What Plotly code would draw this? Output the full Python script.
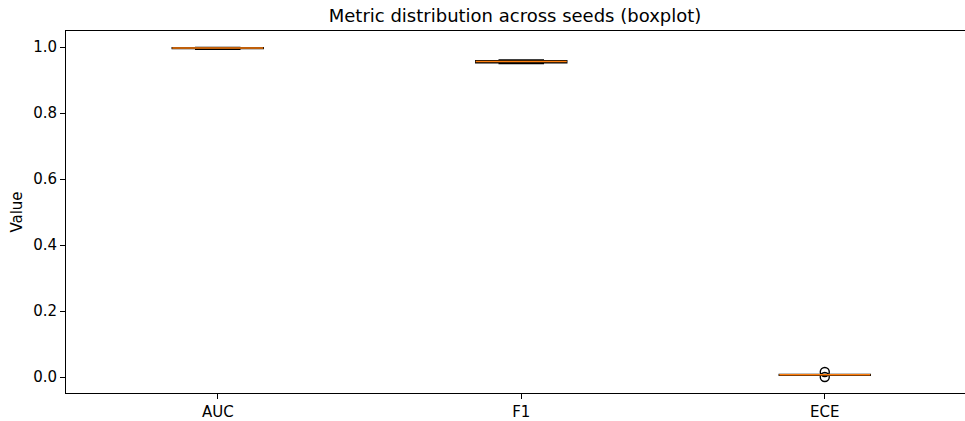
import numpy as np
import plotly.graph_objects as go

categories = ["AUC", "F1", "ECE"]
auc_values = [0.993, 0.996, 0.997, 0.998, 0.999]
f1_values = [0.950, 0.953, 0.956, 0.958, 0.961]
ece_values = [0.005, 0.006, 0.007, 0.007, 0.008, 0.015, 0.000]
y_ticks = [0.0, 0.2, 0.4, 0.6, 0.8, 1.0]

series = [auc_values, f1_values, ece_values]
positions = [1, 2, 3]
box_w = 0.3

fig = go.Figure()
for pos, name, vals in zip(positions, categories, series):
    fig.add_trace(go.Box(
        x=[pos] * len(vals), y=vals, name=name,
        width=box_w, whiskerwidth=0.5,
        quartilemethod="linear",
        boxpoints="outliers",
        fillcolor="rgba(0,0,0,0)",
        line=dict(color="black", width=1.4),
        marker=dict(symbol="circle-open", color="black", size=9,
                    line=dict(width=1.4, color="black")),
        showlegend=False,
    ))
    med = float(np.median(vals))
    fig.add_trace(go.Scatter(
        x=[pos - box_w / 2, pos + box_w / 2], y=[med, med],
        mode="lines", line=dict(color="#ff7f0e", width=1.5),
        showlegend=False, hoverinfo="skip",
    ))

font = "DejaVu Sans, sans-serif"
fig.update_layout(
    width=965, height=421,
    margin=dict(l=66, r=0, t=31, b=28),
    paper_bgcolor="white", plot_bgcolor="white",
    font=dict(family=font, size=15, color="black"),
    title=dict(text="Metric distribution across seeds (boxplot)",
               x=0.4995, xref="paper", xanchor="center",
               y=0.962, yref="container", yanchor="middle",
               font=dict(size=18, family=font, color="black")),
)
fig.update_xaxes(
    range=[0.5, 3.462], tickvals=positions, ticktext=categories,
    showgrid=False, zeroline=False,
    showline=True, linecolor="black", linewidth=1, mirror=True,
    ticks="outside", ticklen=5, tickcolor="black",
)
fig.update_yaxes(
    range=[-0.0485, 1.0485], tickvals=y_ticks,
    ticktext=[f"{v:.1f}" for v in y_ticks],
    showgrid=False, zeroline=False,
    showline=True, linecolor="black", linewidth=1, mirror=False,
    ticks="outside", ticklen=5, tickcolor="black",
    title=dict(text="Value", standoff=6, font=dict(size=15)),
)
fig.write_html("out.html", config={"displayModeBar": False})

with open("out.html", "r", encoding="utf-8") as f:
    html = f.read()
html = html.replace("<head>", "<head><style>html,body{margin:0;padding:0;overflow:hidden;}</style>", 1)
with open("out.html", "w", encoding="utf-8") as f:
    f.write(html)
